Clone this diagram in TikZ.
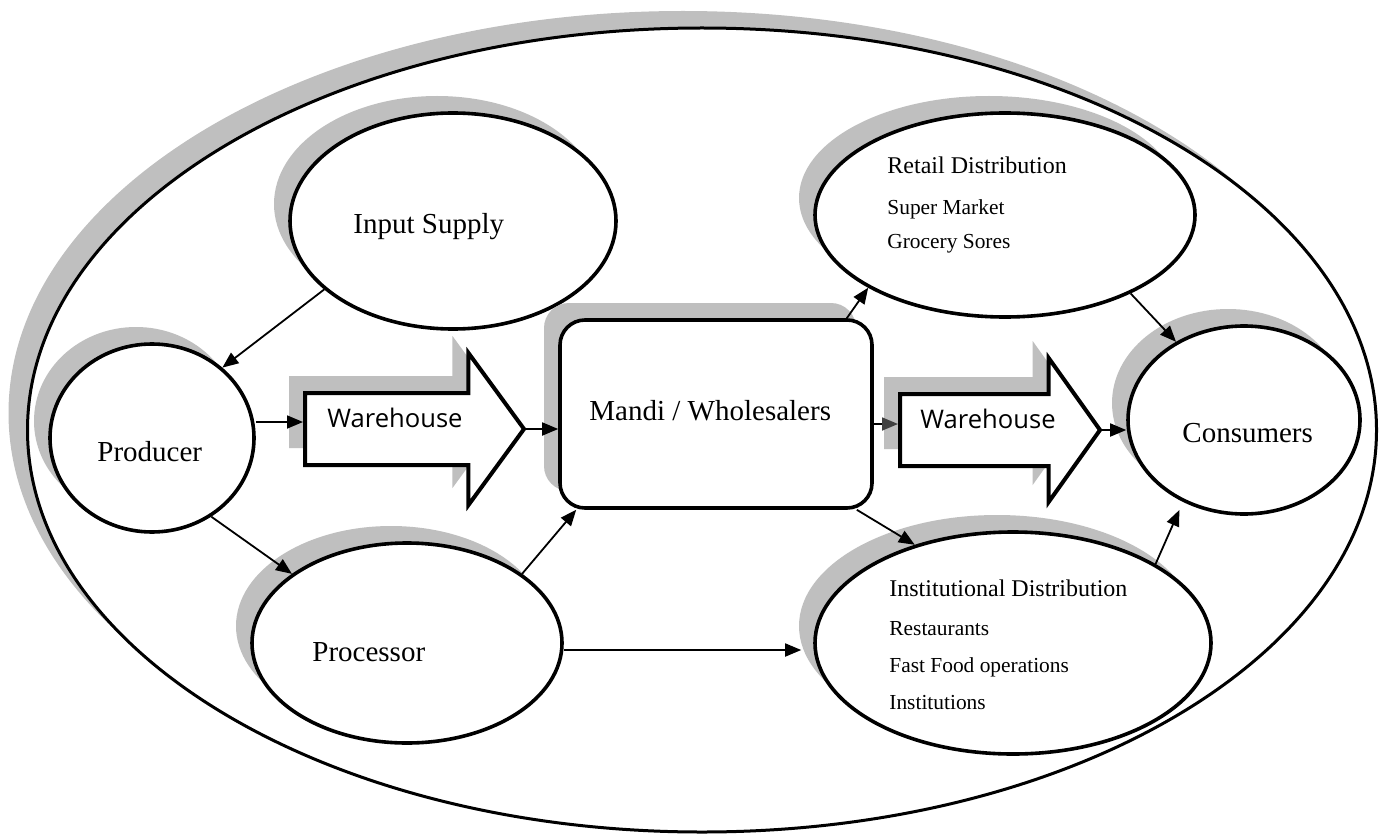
\documentclass[tikz,border=0pt]{standalone}
\usepackage{fontspec}
\setmainfont{Liberation Serif}
\newfontfamily\warefont{Open Sans}
\usetikzlibrary{shapes.geometric,shapes.arrows,shadows,arrows.meta}

\tikzset{
  grayshadow/.style={drop shadow={shadow xshift=-8pt, shadow yshift=8.5pt, fill=black!25, opacity=1}},
  blob/.style={ellipse, draw, line width=1.8pt, fill=white, inner sep=0pt, grayshadow},
  storearrow/.style={single arrow, draw, line width=2pt, fill=white, inner xsep=0pt, inner ysep=17pt, grayshadow, anchor=tail},
  link/.style={-{Triangle[length=8pt,width=6.5pt]}, line width=0.9pt},
  lbltext/.style={anchor=base west, inner sep=0pt, font=\fontsize{14.5}{17}\selectfont},
  headtext/.style={anchor=base west, inner sep=0pt, font=\fontsize{12}{14}\selectfont},
  itemtext/.style={anchor=base west, inner sep=0pt, font=\fontsize{10.7}{13}\selectfont},
  waretext/.style={anchor=base west, inner sep=0pt, font=\warefont\fontsize{12.8}{15}\selectfont},
}

\begin{document}
\begin{tikzpicture}[x=0.5pt, y=-0.5pt]
\useasboundingbox (0,0) rectangle (1384,834);

% outer ring
\node[ellipse, draw, line width=1.5pt, fill=white, inner sep=0pt,
      drop shadow={shadow xshift=-9.5pt, shadow yshift=8.5pt, fill=black!25, opacity=1},
      minimum width=674.5pt, minimum height=402pt] (chain) at (702,430) {};

% stages
\node[blob, minimum width=163pt, minimum height=108pt] (input) at (453,221) {};
\node[blob, minimum width=102pt, minimum height=94pt] (prod) at (152,438) {};
\node[blob, minimum width=155pt, minimum height=100pt] (proc) at (407,643) {};
\node[draw, rounded corners=12.5pt, line width=1.8pt, fill=white, grayshadow,
      minimum width=156pt, minimum height=94pt, inner sep=0pt] (mandi) at (716,414) {};
\node[blob, minimum width=190pt, minimum height=102pt] (retail) at (1005,215) {};
\node[blob, minimum width=198pt, minimum height=111pt] (inst) at (1013,643) {};
\node[blob, minimum width=116pt, minimum height=94pt] (cons) at (1244,420) {};
\node[storearrow, minimum height=109.5pt, minimum width=74pt,
      single arrow head extend=20pt, single arrow tip angle=107.7] (wh1) at (303,429) {};
\node[storearrow, minimum height=100pt, minimum width=70pt,
      single arrow head extend=18pt, single arrow tip angle=109] (wh2) at (898,430) {};

% labels
\node[lbltext] (input-t) at (353,234) {Input Supply};
\node[lbltext] (prod-t) at (97,461) {Producer};
\node[lbltext] (proc-t) at (312,661) {Processor};
\node[lbltext] (mandi-t) at (589,420) {Mandi / Wholesalers};
\node[lbltext] (cons-t) at (1182,442) {Consumers};
\node[waretext] (wh1-t) at (327,427) {Warehouse};
\node[waretext] (wh2-t) at (920,428) {Warehouse};
\node[headtext] (retail-t) at (887,174) {Retail Distribution};
\node[itemtext] (retail-a) at (887,214) {Super Market};
\node[itemtext] (retail-b) at (887,249) {Grocery Sores};
\node[headtext] (inst-t) at (889,596) {Institutional Distribution};
\node[itemtext] (inst-a) at (889,635) {Restaurants};
\node[itemtext] (inst-b) at (889,672) {Fast Food operations};
\node[itemtext] (inst-c) at (889,709) {Institutions};

% flows
\draw[link] (input.208) -- (prod.45);
\draw[link] (prod.307) -- (proc.149);
\draw[link] (proc.31) -- ([xshift=9pt]mandi.south west);
\draw[link] ([yshift=-3.5pt]proc.east) -- ([xshift=-6pt,yshift=-3.5pt]inst.west);
\draw[link] ([xshift=-13.5pt]mandi.north east) -- (retail.208);
\draw[link] ([xshift=-8.5pt]mandi.south east) -- (inst.135);
\draw[link] (retail.328) -- (cons.131);
\draw[link] (inst.29) -- ([xshift=-4pt,yshift=-3pt]cons.236);
\draw[link] ([yshift=8pt]prod.east) -- ([yshift=3.5pt]wh1.tail);
\draw[link] (wh1.tip) -- (wh1.tip -| mandi.west);
\draw[-{Triangle[length=8pt,width=6.5pt,color=black!75]}, line width=0.9pt]
  ([yshift=-5pt]mandi.east) -- ([yshift=3pt]wh2.tail);
\draw[link] (wh2.tip) -- (wh2.tip -| cons.west);
\end{tikzpicture}
\end{document}
